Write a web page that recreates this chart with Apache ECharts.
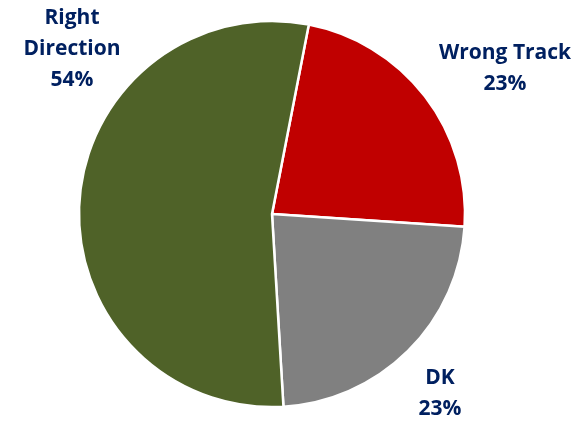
<!DOCTYPE html>
<html><head><meta charset="utf-8">
<script src="https://cdn.jsdelivr.net/npm/echarts@6/dist/echarts.min.js"></script>
<style>html,body{margin:0;padding:0;background:#fff}#c{width:583px;height:421px}</style>
</head><body><div id="c"></div>
<script>
const categories = ["Wrong Track", "DK", "Right Direction"];
const labelTexts = ["Wrong Track\n23%", "DK\n23%", "Right\nDirection\n54%"];
const values = [23, 23, 54];
const colors = ["#C00000", "#808080", "#4F6228"];
const labelPos = [[505, 69], [440, 394], [72, 49]];

const chart = echarts.init(document.getElementById('c'), null, {renderer: 'canvas'});
chart.setOption({
  animation: false,
  series: [{
    type: 'pie',
    center: [272, 214],
    radius: 193,
    startAngle: 79,
    clockwise: true,
    data: categories.map((c, i) => ({name: c, value: values[i], itemStyle: {color: colors[i]}})),
    itemStyle: {borderColor: '#fff', borderWidth: 2.5},
    label: {
      show: true,
      formatter: p => labelTexts[p.dataIndex],
      color: '#002060',
      fontFamily: 'Open Sans',
      fontWeight: 'bold',
      fontSize: 21,
      lineHeight: 31,
      align: 'center',
      width: 200,
      overflow: 'none'
    },
    labelLine: {show: false},
    labelLayout: p => ({x: labelPos[p.dataIndex][0], y: labelPos[p.dataIndex][1], align: 'center', verticalAlign: 'middle'})
  }]
});
</script></body></html>
